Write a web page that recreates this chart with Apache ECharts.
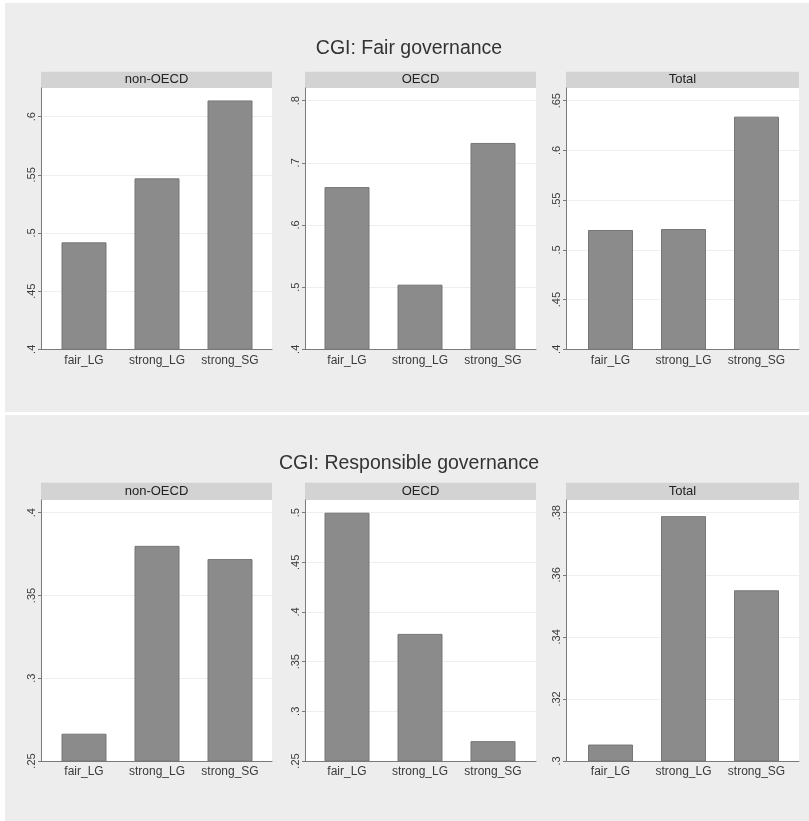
<!DOCTYPE html>
<html><head><meta charset="utf-8">
<script src="https://cdn.jsdelivr.net/npm/echarts@6/dist/echarts.min.js"></script>
<style>html,body{margin:0;padding:0;background:#fff}#c{width:809px;height:821px}</style>
</head><body><div id="c"></div>
<script>
// ---- data ----
const categories = ['fair_LG', 'strong_LG', 'strong_SG'];
const panelNames = ['non-OECD', 'OECD', 'Total'];
const chartTitles = ['CGI: Fair governance', 'CGI: Responsible governance'];

const fairNonOECD = [0.492, 0.547, 0.614];
const fairOECD = [0.661, 0.504, 0.732];
const fairTotal = [0.520, 0.521, 0.634];
const respNonOECD = [0.2665, 0.380, 0.372];
const respOECD = [0.500, 0.378, 0.270];
const respTotal = [0.3053, 0.3789, 0.355];

const fairNonOECDTicks = [0.4, 0.45, 0.5, 0.55, 0.6];
const fairOECDTicks = [0.4, 0.5, 0.6, 0.7, 0.8];
const fairTotalTicks = [0.4, 0.45, 0.5, 0.55, 0.6, 0.65];
const respNonOECDTicks = [0.25, 0.3, 0.35, 0.4];
const respOECDTicks = [0.25, 0.3, 0.35, 0.4, 0.45, 0.5];
const respTotalTicks = [0.3, 0.32, 0.34, 0.36, 0.38];

// axis ranges [min, max, interval]
const fairNonOECDRange = [0.4, 0.6247, 0.05];
const fairOECDRange = [0.4, 0.8204, 0.1];
const fairTotalRange = [0.4, 0.6628, 0.05];
const respNonOECDRange = [0.25, 0.4077, 0.05];
const respOECDRange = [0.25, 0.5128, 0.05];
const respTotalRange = [0.3, 0.3841, 0.02];

// ---- layout ----
const cols = [
  { left: 41, right: 272, inL: 47.5, inR: 266.5 },
  { left: 305, right: 536, inL: 310.5, inR: 529.5 },
  { left: 566, right: 799, inL: 574, inR: 793 }
];
const rows = [
  { hTop: 71.7, top: 88, bottom: 349.3, titleY: 49 },
  { hTop: 482.7, top: 500, bottom: 761, titleY: 463.5 }
];

const panels = [
  [fairNonOECD, fairNonOECDTicks, fairNonOECDRange],
  [fairOECD, fairOECDTicks, fairOECDRange],
  [fairTotal, fairTotalTicks, fairTotalRange],
  [respNonOECD, respNonOECDTicks, respNonOECDRange],
  [respOECD, respOECDTicks, respOECDRange],
  [respTotal, respTotalTicks, respTotalRange]
];

const FONT = 'Liberation Sans, Arial, sans-serif';
const grids = [], xAxes = [], yAxes = [], series = [], graphics = [];

graphics.push({ type: 'rect', shape: { x: 5, y: 3, width: 804, height: 409 }, style: { fill: '#ededed' }, z: -10, silent: true });
graphics.push({ type: 'rect', shape: { x: 5, y: 415, width: 804, height: 406 }, style: { fill: '#ededed' }, z: -10, silent: true });

function fmt(v) { return String(+v.toFixed(3)).replace(/^0/, ''); }

panels.forEach((p, i) => {
  const r = rows[Math.floor(i / 3)], c = cols[i % 3];
  const [vals, ticks, range] = p;
  const h = r.bottom - r.top;
  const fi = grids.length;
  grids.push({ left: c.left, top: r.top, width: c.right - c.left, height: h, show: true, backgroundColor: '#ffffff', borderWidth: 0, containLabel: false });
  grids.push({ left: c.inL, top: r.top, width: c.inR - c.inL, height: h, show: false, containLabel: false });
  xAxes.push({ type: 'category', gridIndex: fi, data: categories, axisLabel: { show: false }, axisTick: { show: false },
    axisLine: { show: true, lineStyle: { color: '#7a7a7a', width: 1 } }, splitLine: { show: false } });
  xAxes.push({ type: 'category', gridIndex: fi + 1, data: categories, axisLine: { show: false }, axisTick: { show: false },
    axisLabel: { show: true, color: '#3a3a3a', fontSize: 12, fontFamily: FONT, margin: 5, interval: 0 } });
  const ticksSet = ticks.map(fmt);
  yAxes.push({ type: 'value', gridIndex: fi, min: range[0], max: range[1], interval: range[2],
    axisLine: { show: true, lineStyle: { color: '#7a7a7a', width: 1 } },
    axisTick: { show: true, length: 3, lineStyle: { color: '#7a7a7a' }, customValues: ticks },
    axisLabel: { show: true, rotate: 90, color: '#3a3a3a', fontSize: 11, fontFamily: FONT, margin: 4, customValues: ticks,
      formatter: v => { const s = fmt(v); return ticksSet.indexOf(s) >= 0 ? s : ''; } },
    splitLine: { show: true, lineStyle: { color: '#efefef', width: 1 } } });
  yAxes.push({ type: 'value', gridIndex: fi + 1, min: range[0], max: range[1], interval: range[2], show: false,
    splitLine: { show: false } });
  series.push({ type: 'bar', xAxisIndex: fi + 1, yAxisIndex: fi + 1, data: vals, barWidth: 45,
    itemStyle: { color: '#8b8b8b', borderColor: '#767676', borderWidth: 1 }, silent: true, animation: false });
  graphics.push({ type: 'rect', shape: { x: c.left, y: r.hTop, width: c.right - c.left, height: r.top - r.hTop },
    style: { fill: '#d3d3d3' }, silent: true });
  graphics.push({ type: 'text', x: (c.left + c.right) / 2, y: (r.hTop + r.top) / 2,
    style: { text: panelNames[i % 3], fill: '#222', font: '13px ' + FONT, textAlign: 'center', textVerticalAlign: 'middle' }, silent: true });
});

rows.forEach((r, k) => {
  graphics.push({ type: 'text', x: 409, y: r.titleY,
    style: { text: chartTitles[k], fill: '#333', font: '19.5px ' + FONT, textAlign: 'center', textVerticalAlign: 'middle' }, silent: true });
});

const chart = echarts.init(document.getElementById('c'), null, { renderer: 'canvas' });
chart.setOption({
  animation: false,
  backgroundColor: '#ffffff',
  grid: grids,
  xAxis: xAxes,
  yAxis: yAxes,
  series: series,
  graphic: graphics
});
</script></body></html>
